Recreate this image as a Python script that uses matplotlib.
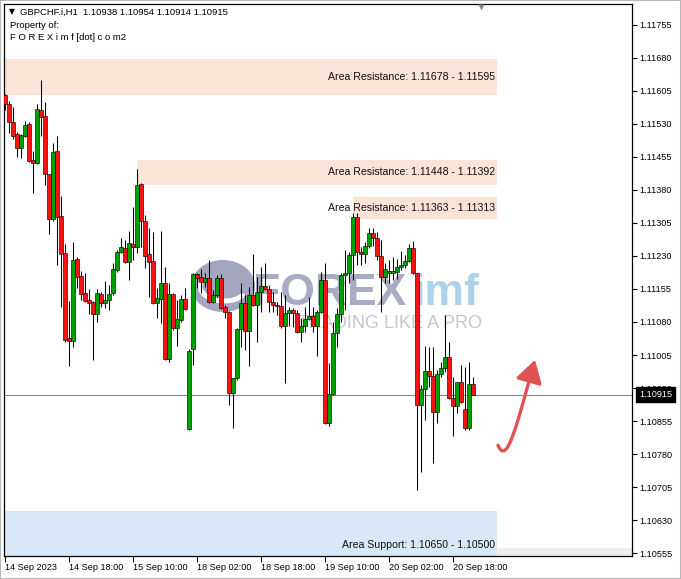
import numpy as np
import matplotlib
matplotlib.use("Agg")
import matplotlib.pyplot as plt
from matplotlib.patches import Rectangle, FancyArrowPatch, Ellipse
from matplotlib.path import Path
from matplotlib.transforms import blended_transform_factory

plt.rcParams['font.family'] = ['Liberation Sans', 'DejaVu Sans']

symbol = "GBPCHF.i,H1"

# hourly bars, 14 Sep 02:00 .. 20 Sep 23:00
opens = [1.11596, 1.11575, 1.11535, 1.11507, 1.11475, 1.11503, 1.11530, 1.11448, 1.11441, 1.11562,
         1.11548, 1.11416, 1.11314, 1.11469, 1.11321, 1.11237, 1.11044, 1.11037, 1.11223, 1.11184,
         1.11146, 1.11130, 1.11125, 1.11098, 1.11144, 1.11123, 1.11130, 1.11146, 1.11198, 1.11239,
         1.11248, 1.11216, 1.11257, 1.11250, 1.11393, 1.11310, 1.11234, 1.11219, 1.11123, 1.11132,
         1.11169, 1.10996, 1.11144, 1.11066, 1.11085, 1.11132, 1.10837, 1.11019, 1.11189, 1.11182,
         1.11171, 1.11180, 1.11125, 1.11141, 1.11180, 1.11114, 1.11103, 1.10919, 1.10953, 1.11064,
         1.11123, 1.11060, 1.11141, 1.11119, 1.11148, 1.11162, 1.11155, 1.11125, 1.11119, 1.11117,
         1.11071, 1.11100, 1.11107, 1.11100, 1.11057, 1.11071, 1.11087, 1.11094, 1.11071, 1.11103,
         1.11175, 1.10850, 1.10916, 1.11055, 1.11098, 1.11187, 1.11191, 1.11232, 1.11319, 1.11239,
         1.11234, 1.11253, 1.11282, 1.11271, 1.11230, 1.11182, 1.11191, 1.11191, 1.11194, 1.11205,
         1.11210, 1.11219, 1.11248, 1.11191, 1.10891, 1.10928, 1.10969, 1.10957, 1.10875, 1.10962,
         1.10975, 1.11000, 1.10907, 1.10889, 1.10944, 1.10882, 1.10839, 1.10938]
highs = [1.11598, 1.11582, 1.11569, 1.11512, 1.11507, 1.11537, 1.11535, 1.11469, 1.11575, 1.11630,
         1.11580, 1.11416, 1.11487, 1.11503, 1.11366, 1.11257, 1.11128, 1.11262, 1.11228, 1.11196,
         1.11191, 1.11155, 1.11127, 1.11155, 1.11148, 1.11173, 1.11164, 1.11214, 1.11244, 1.11271,
         1.11266, 1.11287, 1.11341, 1.11428, 1.11396, 1.11323, 1.11294, 1.11285, 1.11157, 1.11287,
         1.11205, 1.11169, 1.11146, 1.11130, 1.11141, 1.11157, 1.11019, 1.11191, 1.11191, 1.11200,
         1.11191, 1.11221, 1.11153, 1.11187, 1.11189, 1.11119, 1.11105, 1.10953, 1.11066, 1.11169,
         1.11141, 1.11159, 1.11234, 1.11182, 1.11205, 1.11214, 1.11164, 1.11148, 1.11125, 1.11148,
         1.11141, 1.11114, 1.11112, 1.11107, 1.11089, 1.11114, 1.11137, 1.11114, 1.11107, 1.11194,
         1.11214, 1.10987, 1.11080, 1.11112, 1.11191, 1.11244, 1.11239, 1.11328, 1.11328, 1.11250,
         1.11262, 1.11294, 1.11294, 1.11285, 1.11266, 1.11214, 1.11221, 1.11228, 1.11223, 1.11241,
         1.11232, 1.11257, 1.11264, 1.11191, 1.10937, 1.11025, 1.11023, 1.11023, 1.10971, 1.10989,
         1.11096, 1.11034, 1.10955, 1.10944, 1.10982, 1.10978, 1.10989, 1.10954]
lows = [1.11562, 1.11510, 1.11496, 1.11455, 1.11453, 1.11500, 1.11444, 1.11373, 1.11439, 1.11503,
        1.11391, 1.11280, 1.11310, 1.11210, 1.11114, 1.11034, 1.10980, 1.11023, 1.11157, 1.11130,
        1.11125, 1.11098, 1.10994, 1.11080, 1.11114, 1.11112, 1.11107, 1.11141, 1.11194, 1.11237,
        1.11214, 1.11175, 1.11221, 1.11237, 1.11250, 1.11203, 1.11137, 1.11121, 1.11089, 1.11078,
        1.10994, 1.10989, 1.11062, 1.11025, 1.11080, 1.11107, 1.10835, 1.10982, 1.11157, 1.11146,
        1.11160, 1.11123, 1.11123, 1.11137, 1.11110, 1.11089, 1.10891, 1.10839, 1.10948, 1.11023,
        1.11016, 1.10980, 1.11117, 1.11034, 1.11103, 1.11153, 1.11103, 1.11103, 1.11096, 1.11066,
        1.10941, 1.11071, 1.11069, 1.11055, 1.11034, 1.11057, 1.11085, 1.11057, 1.11003, 1.11100,
        1.10848, 1.10844, 1.10914, 1.11023, 1.11080, 1.11107, 1.11169, 1.11175, 1.11210, 1.11210,
        1.11214, 1.11248, 1.11253, 1.11221, 1.11103, 1.11169, 1.11169, 1.11175, 1.11178, 1.11198,
        1.11203, 1.11216, 1.11189, 1.10698, 1.10739, 1.10857, 1.10932, 1.10760, 1.10850, 1.10955,
        1.10966, 1.10905, 1.10821, 1.10873, 1.10896, 1.10835, 1.10835, 1.10914]
closes = [1.11575, 1.11535, 1.11503, 1.11475, 1.11505, 1.11528, 1.11446, 1.11441, 1.11564, 1.11546,
          1.11416, 1.11314, 1.11466, 1.11319, 1.11234, 1.11039, 1.11037, 1.11221, 1.11182, 1.11144,
          1.11128, 1.11123, 1.11098, 1.11146, 1.11123, 1.11130, 1.11144, 1.11200, 1.11239, 1.11250,
          1.11216, 1.11260, 1.11250, 1.11391, 1.11310, 1.11230, 1.11216, 1.11123, 1.11135, 1.11169,
          1.10996, 1.11144, 1.11066, 1.11087, 1.11132, 1.11110, 1.11014, 1.11189, 1.11180, 1.11171,
          1.11180, 1.11125, 1.11141, 1.11180, 1.11112, 1.11103, 1.10919, 1.10953, 1.11064, 1.11123,
          1.11060, 1.11141, 1.11119, 1.11148, 1.11162, 1.11155, 1.11125, 1.11119, 1.11117, 1.11071,
          1.11100, 1.11107, 1.11100, 1.11057, 1.11071, 1.11087, 1.11094, 1.11071, 1.11103, 1.11175,
          1.10850, 1.10916, 1.11055, 1.11098, 1.11187, 1.11191, 1.11232, 1.11319, 1.11239, 1.11234,
          1.11253, 1.11282, 1.11271, 1.11230, 1.11182, 1.11200, 1.11196, 1.11196, 1.11205, 1.11210,
          1.11219, 1.11248, 1.11191, 1.10891, 1.10928, 1.10969, 1.10957, 1.10875, 1.10962, 1.10975,
          1.11000, 1.10907, 1.10889, 1.10944, 1.10898, 1.10839, 1.10939, 1.10915]

zone_kind = ["Area Resistance", "Area Resistance", "Area Resistance", "Area Support"]
zone_hi = [1.11678, 1.11448, 1.11363, 1.10650]
zone_lo = [1.11595, 1.11392, 1.11313, 1.10500]
zone_from = [-0.25, 33, 87, 0]   # bar index where the box starts
zone_to = 123

price_ticks = [1.10555, 1.10630, 1.10705, 1.10780, 1.10855, 1.10930, 1.11005, 1.11080, 1.11155,
               1.11230, 1.11305, 1.11380, 1.11455, 1.11530, 1.11605, 1.11680, 1.11755]
time_ticks = [0, 16, 32, 48, 64, 80, 96, 112]
time_labels = ["14 Sep 2023", "14 Sep 18:00", "15 Sep 10:00", "18 Sep 02:00",
               "18 Sep 18:00", "19 Sep 10:00", "20 Sep 02:00", "20 Sep 18:00"]

W, H = 681, 579
fig = plt.figure(figsize=(W / 100, H / 100), dpi=100)
fig.patch.set_facecolor('white')
ax = fig.add_axes([4 / W, (H - 556) / H, 628 / W, 552 / H])
ylo, yhi = 1.105482, 1.118027
ax.set_xlim(-0.25, 156.75)
ax.set_ylim(ylo, yhi)


def axf(xp, yp):
    # screen pixel -> axes fraction
    return (xp - 4) / 628, (556 - yp) / 552


# zones
for kind, hi, lo, x0 in zip(zone_kind, zone_hi, zone_lo, zone_from):
    col = '#d9e8f7' if 'Support' in kind else '#fce3d7'
    ax.add_patch(Rectangle((x0, lo), zone_to - x0, hi - lo, facecolor=col,
                           edgecolor='none', zorder=0))
    if 'Support' in kind:
        ty = ylo + 0.25 * (hi - ylo)
    else:
        ty = (hi + lo) / 2
    ax.text(zone_to - 0.5, ty, f"{kind}: {hi:.5f} - {lo:.5f}", ha='right', va='center',
            fontsize=7.6, color='#111111', zorder=2)

# grey strip at bottom right
ax.add_patch(Rectangle((zone_to, ylo), 156.75 - zone_to, 1.10566 - ylo,
                       facecolor='#eeeeee', edgecolor='none', zorder=0))

# watermark
ax.add_patch(Ellipse(axf(223, 286), 64 / 628, 52 / 552, transform=ax.transAxes,
                     facecolor='#a3a6be', edgecolor='none', zorder=1))
t = np.linspace(np.radians(165), np.radians(320), 40)
arc = [axf(224 + 24 * np.cos(a), 286 - 15 * np.sin(a)) for a in t]
ax.plot([p[0] for p in arc], [p[1] for p in arc], color='white', lw=3.5,
        transform=ax.transAxes, zorder=1, solid_capstyle='round')
ax.text(*axf(253, 293), "FOREX", ha='left', va='center', fontsize=32, fontweight='bold',
        color='#a8abc3', transform=ax.transAxes, zorder=1)
ax.text(*axf(413, 293), "imf", ha='left', va='center', fontsize=32, fontweight='bold',
        color='#add2ea', transform=ax.transAxes, zorder=1)
ax.text(*axf(482, 323), "TRADING LIKE A PRO", ha='right', va='center', fontsize=13,
        color='#c6c7cf', transform=ax.transAxes, zorder=1)

# last price line
ax.axhline(closes[-1], color='#80878f', lw=0.8, zorder=1)

# candles
o = np.array(opens)
h = np.array(highs)
l = np.array(lows)
c = np.array(closes)
idx = np.arange(len(o))
up = c >= o
body_col = np.where(up, '#00a000', '#fa1212')
ax.vlines(idx, l, h, color='black', lw=0.75, zorder=3)
ax.bar(idx, np.maximum(np.abs(c - o), 0.00002), bottom=np.minimum(o, c), width=0.76,
       color=body_col, edgecolor='black', linewidth=0.42, zorder=4)

# hand-drawn arrow
arrow_x = [123.25, 125.5, 128.25, 132.5]
arrow_y = [1.10800, 1.10748, 1.10857, 1.10994]
arr = FancyArrowPatch(path=Path(list(zip(arrow_x, arrow_y)),
                                [Path.MOVETO, Path.CURVE4, Path.CURVE4, Path.CURVE4]),
                      arrowstyle='-|>,head_length=0.75,head_width=0.45', mutation_scale=18,
                      color='#e05352', lw=2.4, shrinkA=0, shrinkB=0, zorder=5,
                      capstyle='round', joinstyle='round')
ax.add_patch(arr)

# axes look
for s in ax.spines.values():
    s.set_color('black')
    s.set_linewidth(0.9)
ax.yaxis.tick_right()
ax.set_yticks(price_ticks)
ax.set_yticklabels([f"{p:.5f}" for p in price_ticks])
ax.set_xticks(time_ticks)
ax.set_xticklabels(time_labels)
for lbl in ax.get_xticklabels():
    lbl.set_ha('left')
ax.tick_params(axis='y', direction='out', length=3.5, width=0.8, pad=2, labelsize=6.6,
               colors='black')
ax.tick_params(axis='x', direction='out', length=4, width=0.8, pad=1.2, labelsize=6.6,
               colors='black')

# current price label
tr = blended_transform_factory(ax.transAxes, ax.transData)
ax.text(1 + 7 / 628, closes[-1], f"{closes[-1]:.5f}", transform=tr, ha='left', va='center',
        fontsize=6.6, color='white', zorder=10, clip_on=False,
        bbox=dict(facecolor='black', edgecolor='black', boxstyle='square,pad=0.3'))

# header
ax.text(*axf(9, 12), "\u25bc", ha='left', va='center', fontsize=5.5, color='black',
        transform=ax.transAxes, family=['DejaVu Sans'])
ax.text(*axf(20, 12), f"{symbol}  {opens[-1]:.5f} {highs[-1]:.5f} {lows[-1]:.5f} {closes[-1]:.5f}",
        ha='left', va='center', fontsize=6.8, transform=ax.transAxes)
ax.text(*axf(10, 25), "Property of:", ha='left', va='center', fontsize=6.8,
        transform=ax.transAxes)
ax.text(*axf(10, 37), "F O R E X i m f [dot] c o m2", ha='left', va='center', fontsize=6.8,
        transform=ax.transAxes)

# chart shift marker
ax.plot(*axf(481, 6.5), marker='v', ms=5, color='#7b8794', mec='none',
        transform=ax.transAxes, clip_on=False, zorder=6)

fig.patches.append(Rectangle((0, 0), 1, 1, transform=fig.transFigure, fill=False,
                             edgecolor='#b8b8b8', lw=1.5))

fig.savefig("out.png", dpi=100)
